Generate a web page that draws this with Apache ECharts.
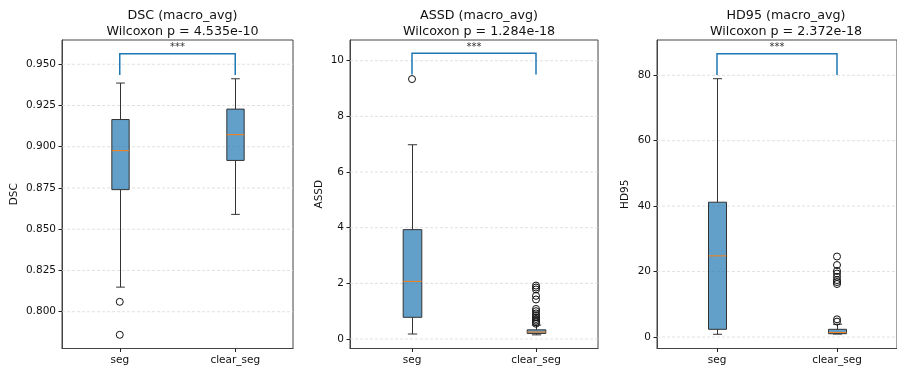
<!DOCTYPE html>
<html><head><meta charset="utf-8">
<script src="https://cdn.jsdelivr.net/npm/echarts@6/dist/echarts.min.js"></script>
<style>html,body{margin:0;padding:0;background:#fff}#c{width:897px;height:368px}</style>
</head><body><div id="c"></div>
<script>
// ---- data ----
const categories = ['seg', 'clear_seg'];
const metricNames = ['DSC', 'ASSD', 'HD95'];
const pValues = ['4.535e-10', '1.284e-18', '2.372e-18'];
// box stats per category: [whiskerLow, Q1, median, Q3, whiskerHigh]
const dscBoxes  = [[0.8149, 0.8740, 0.8976, 0.9165, 0.9386], [0.8590, 0.8917, 0.9073, 0.9228, 0.9412]];
const assdBoxes = [[0.18, 0.78, 2.07, 3.93, 6.98], [0.15, 0.20, 0.25, 0.33, 0.50]];
const hd95Boxes = [[0.83, 2.35, 24.8, 41.2, 78.96], [0.90, 1.00, 1.40, 2.35, 3.90]];
// outliers per category
const dscOutliers  = [[0.806, 0.786], []];
const assdOutliers = [[9.34], [1.92, 1.85, 1.78, 1.55, 1.42, 1.08, 1.00, 0.92, 0.85, 0.78, 0.72, 0.66, 0.60, 0.55]];
const hd95Outliers = [[], [24.6, 22.0, 20.2, 19.4, 18.4, 17.4, 16.8, 16.2, 5.4, 4.7]];
// tick labels
const dscTicks  = [0.800, 0.825, 0.850, 0.875, 0.900, 0.925, 0.950];
const assdTicks = [0, 2, 4, 6, 8, 10];
const hd95Ticks = [0, 20, 40, 60, 80];
// significance bracket: [legBottom, top]
const brackets = [[0.9435, 0.9564], [9.50, 10.27], [80.1, 86.6]];
const sigLabel = '***';
// axis ranges
const yRanges = [[0.7777, 0.9647], [-0.341, 10.744], [-3.52, 90.79]];

// ---- layout ----
const FONT = 'DejaVu Sans';
const grids = [
  {left: 62, top: 40, width: 231, height: 308.5},
  {left: 350, top: 40, width: 248, height: 308.5},
  {left: 657, top: 40, width: 248, height: 308.5}
];
const nameGaps = [42, 25, 26];
const labelFmt = [v => v.toFixed(3), v => String(v), v => String(v)];
const allBoxes = [dscBoxes, assdBoxes, hd95Boxes];
const allOutliers = [dscOutliers, assdOutliers, hd95Outliers];
const allTicks = [dscTicks, assdTicks, hd95Ticks];

function boxRender(params, api) {
  const x = api.value(0);
  const lo = api.coord([x, api.value(1)]);
  const q1 = api.coord([x, api.value(2)]);
  const md = api.coord([x, api.value(3)]);
  const q3 = api.coord([x, api.value(4)]);
  const hi = api.coord([x, api.value(5)]);
  const band = api.size([1, 0])[0];
  const bw = band * 0.15, cw = bw / 2;
  const cx = Math.round(lo[0]) + 0.5;
  const ln = {stroke: '#333', lineWidth: 1};
  return {type: 'group', children: [
    {type: 'line', shape: {x1: cx, y1: q1[1], x2: cx, y2: lo[1]}, style: ln},
    {type: 'line', shape: {x1: cx, y1: q3[1], x2: cx, y2: hi[1]}, style: ln},
    {type: 'line', shape: {x1: cx - cw / 2, y1: lo[1], x2: cx + cw / 2, y2: lo[1]}, style: ln},
    {type: 'line', shape: {x1: cx - cw / 2, y1: hi[1], x2: cx + cw / 2, y2: hi[1]}, style: ln},
    {type: 'rect', shape: {x: cx - bw / 2, y: q3[1], width: bw, height: q1[1] - q3[1]},
      style: {fill: 'rgba(31,119,180,0.7)', stroke: '#333', lineWidth: 1}},
    {type: 'line', shape: {x1: cx - bw / 2, y1: md[1], x2: cx + bw / 2, y2: md[1]},
      style: {stroke: '#ff7f0e', lineWidth: 1}}
  ]};
}

function bracketRender(params, api) {
  const legY = api.value(2), topY = api.value(3);
  const a = api.coord([api.value(0), legY]);
  const b = api.coord([api.value(0), topY]);
  const c = api.coord([api.value(1), topY]);
  const d = api.coord([api.value(1), legY]);
  return {type: 'group', children: [
    {type: 'polyline', shape: {points: [a, b, c, d]},
      style: {stroke: '#1f77b4', lineWidth: 1.5, fill: null}},
    {type: 'text', x: (b[0] + c[0]) / 2, y: b[1] - 1,
      style: {text: sigLabel, fill: '#333', font: '10px ' + FONT, align: 'center', verticalAlign: 'bottom'}}
  ]};
}

function gridLineRender(params, api) {
  const p = api.coord([0, api.value(0)]);
  const cs = params.coordSys;
  return {type: 'line', shape: {x1: cs.x, y1: p[1], x2: cs.x + cs.width, y2: p[1]},
    style: {stroke: '#d9d9d9', lineWidth: 0.8, lineDash: [3, 2]}};
}

const option = {
  animation: false,
  backgroundColor: '#fff',
  textStyle: {fontFamily: FONT},
  title: metricNames.map((m, i) => ({
    text: m + ' (macro_avg)\nWilcoxon p = ' + pValues[i],
    left: grids[i].left + grids[i].width / 2, top: 3, textAlign: 'center',
    textStyle: {fontFamily: FONT, fontSize: 12.7, fontWeight: 'normal', color: '#111', lineHeight: 15.5}
  })),
  grid: grids.map(g => Object.assign({show: true, borderColor: '#444', borderWidth: 1, backgroundColor: 'transparent'}, g)),
  xAxis: grids.map((g, i) => ({
    type: 'category', gridIndex: i, data: categories, boundaryGap: true,
    axisLine: {show: true, onZero: false, lineStyle: {color: '#444', width: 1}},
    axisTick: {show: true, alignWithLabel: true, length: 3.5, lineStyle: {color: '#222'}},
    axisLabel: {color: '#111', fontSize: 10.5, fontFamily: FONT, margin: 6},
    splitLine: {show: false}
  })),
  yAxis: grids.map((g, i) => ({
    type: 'value', gridIndex: i, min: yRanges[i][0], max: yRanges[i][1],
    name: metricNames[i], nameLocation: 'middle', nameGap: nameGaps[i], nameRotate: 90,
    nameTextStyle: {color: '#111', fontSize: 10.5, fontFamily: FONT},
    axisLine: {show: true, onZero: false, lineStyle: {color: '#444', width: 1}},
    axisTick: {show: true, length: 3.5, customValues: allTicks[i], lineStyle: {color: '#222'}},
    axisLabel: {color: '#111', fontSize: 10.5, fontFamily: FONT, margin: 6,
      customValues: allTicks[i], formatter: labelFmt[i]},
    splitLine: {show: false}
  })),
  series: []
};

for (let i = 0; i < 3; i++) {
  option.series.push({
    type: 'custom', xAxisIndex: i, yAxisIndex: i, z: 1, silent: true,
    renderItem: gridLineRender, encode: {y: 0},
    data: allTicks[i].map(v => [v])
  });
  option.series.push({
    type: 'custom', xAxisIndex: i, yAxisIndex: i, z: 3, silent: true,
    renderItem: boxRender, encode: {x: 0, y: [1, 2, 3, 4, 5]},
    data: allBoxes[i].map((b, k) => [k].concat(b))
  });
  const pts = [];
  allOutliers[i].forEach((arr, k) => arr.forEach(v => pts.push([k, v])));
  option.series.push({
    type: 'scatter', xAxisIndex: i, yAxisIndex: i, z: 4, silent: true,
    symbol: 'circle', symbolSize: 7,
    itemStyle: {color: 'rgba(255,255,255,0)', borderColor: '#111', borderWidth: 1, opacity: 1},
    data: pts
  });
  option.series.push({
    type: 'custom', xAxisIndex: i, yAxisIndex: i, z: 5, silent: true,
    renderItem: bracketRender, encode: {x: [0, 1], y: [2, 3]},
    data: [[0, 1, brackets[i][0], brackets[i][1]]]
  });
}

const chart = echarts.init(document.getElementById('c'), null, {renderer: 'canvas'});
chart.setOption(option);
</script>
</body></html>
